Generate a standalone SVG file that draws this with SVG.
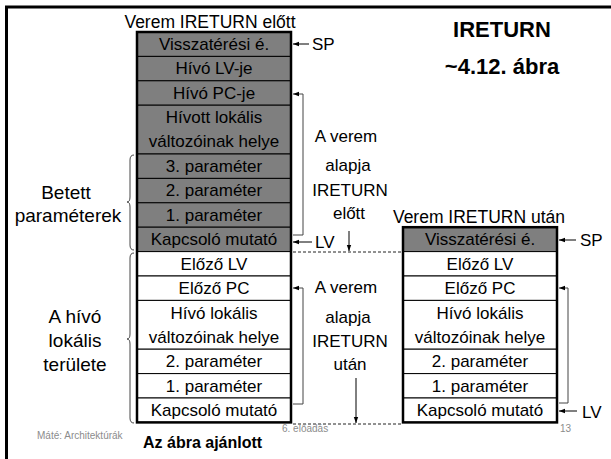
<svg xmlns="http://www.w3.org/2000/svg" width="611" height="459" viewBox="0 0 611 459">
<style>
  text { font-family: "Liberation Sans", Arial, sans-serif; fill: #000; }
  .t { font-size: 17px; text-anchor: middle; }
  .s { font-size: 19px; text-anchor: middle; }
  .h { font-size: 17.5px; text-anchor: middle; }
  .lbl { font-size: 17px; }
  .g { fill: #7f7f7f; stroke: #000; stroke-width: 1; }
  .w { fill: #fff; stroke: #000; stroke-width: 1; }
  .outer { fill: none; stroke: #000; stroke-width: 2.5; }
  .ln { fill: none; stroke: #000; stroke-width: 1; }
  .br { fill: none; stroke: #444; stroke-width: 1; }
  .dash { fill: none; stroke: #222; stroke-width: 1; stroke-dasharray: 3 2; }
  .foot { font-size: 10px; fill: #8c8c8c; }
</style>
<defs>
  <marker id="ah" viewBox="0 0 6 6" refX="6" refY="3" markerWidth="6" markerHeight="6" markerUnits="userSpaceOnUse" orient="auto">
    <path d="M0,0.8 L6,3 L0,5.2 z" fill="#000"/>
  </marker>
</defs>
<rect width="611" height="459" fill="#fff"/>
<g id="frame">
  <line x1="5" y1="7" x2="611" y2="7" stroke="#000" stroke-width="3"/>
  <line x1="6.5" y1="6" x2="6.5" y2="459" stroke="#000" stroke-width="3"/>
</g>

<g id="titles">
  <text x="502" y="37" style="font-size:22px;font-weight:bold;text-anchor:middle">IRETURN</text>
  <text x="502" y="74" style="font-size:22px;font-weight:bold;text-anchor:middle">~4.12. ábra</text>
  <text x="210" y="28" class="h">Verem IRETURN előtt</text>
  <text x="479" y="223" class="h">Verem IRETURN után</text>
</g>

<g id="left-stack">
  <g id="l1"><rect class="g" x="137" y="32" width="154" height="24.4"/><text class="t" x="214" y="50">Visszatérési é.</text></g>
  <g id="l2"><rect class="g" x="137" y="56.4" width="154" height="24.4"/><text class="t" x="214" y="74.4">Hívó LV-je</text></g>
  <g id="l3"><rect class="g" x="137" y="80.8" width="154" height="24.4"/><text class="t" x="214" y="98.8">Hívó PC-je</text></g>
  <g id="l4"><rect class="g" x="137" y="105.2" width="154" height="48.8"/><text class="t" x="214" y="123">Hívott lokális</text><text class="t" x="214" y="147">változóinak helye</text></g>
  <g id="l5"><rect class="g" x="137" y="154" width="154" height="24.4"/><text class="t" x="214" y="172">3. paraméter</text></g>
  <g id="l6"><rect class="g" x="137" y="178.4" width="154" height="24.4"/><text class="t" x="214" y="196.4">2. paraméter</text></g>
  <g id="l7"><rect class="g" x="137" y="202.8" width="154" height="24.4"/><text class="t" x="214" y="220.8">1. paraméter</text></g>
  <g id="l8"><rect class="g" x="137" y="227.2" width="154" height="24.4"/><text class="t" x="214" y="245.2">Kapcsoló mutató</text></g>
  <g id="l9"><rect class="w" x="137" y="251.6" width="154" height="24.4"/><text class="t" x="214" y="269.6">Előző LV</text></g>
  <g id="l10"><rect class="w" x="137" y="276" width="154" height="24.4"/><text class="t" x="214" y="294">Előző PC</text></g>
  <g id="l11"><rect class="w" x="137" y="300.4" width="154" height="48.8"/><text class="t" x="214" y="318.5">Hívó lokális</text><text class="t" x="214" y="342.5">változóinak helye</text></g>
  <g id="l12"><rect class="w" x="137" y="349.2" width="154" height="24.4"/><text class="t" x="214" y="367.2">2. paraméter</text></g>
  <g id="l13"><rect class="w" x="137" y="373.6" width="154" height="24.4"/><text class="t" x="214" y="391.6">1. paraméter</text></g>
  <g id="l14"><rect class="w" x="137" y="398" width="154" height="24.4"/><text class="t" x="214" y="416">Kapcsoló mutató</text></g>
  <rect class="outer" x="137" y="32" width="154" height="390.4"/>
</g>

<g id="right-stack">
  <g id="r1"><rect class="g" x="403" y="227.2" width="154" height="24.4"/><text class="t" x="480" y="245.2">Visszatérési é.</text></g>
  <g id="r2"><rect class="w" x="403" y="251.6" width="154" height="24.4"/><text class="t" x="480" y="269.6">Előző LV</text></g>
  <g id="r3"><rect class="w" x="403" y="276" width="154" height="24.4"/><text class="t" x="480" y="294">Előző PC</text></g>
  <g id="r4"><rect class="w" x="403" y="300.4" width="154" height="48.8"/><text class="t" x="480" y="318.5">Hívó lokális</text><text class="t" x="480" y="342.5">változóinak helye</text></g>
  <g id="r5"><rect class="w" x="403" y="349.2" width="154" height="24.4"/><text class="t" x="480" y="367.2">2. paraméter</text></g>
  <g id="r6"><rect class="w" x="403" y="373.6" width="154" height="24.4"/><text class="t" x="480" y="391.6">1. paraméter</text></g>
  <g id="r7"><rect class="w" x="403" y="398" width="154" height="24.4"/><text class="t" x="480" y="416">Kapcsoló mutató</text></g>
  <rect class="outer" x="403" y="227.2" width="154" height="195.2"/>
</g>

<g id="side-labels">
  <text class="s" x="66" y="199">Betett</text>
  <text class="s" x="68" y="222">paraméterek</text>
  <text class="s" x="75" y="323">A hívó</text>
  <text class="s" x="75" y="347">lokális</text>
  <text class="s" x="75" y="371">területe</text>
  <text class="t" x="346" y="142">A verem</text>
  <text class="t" x="348" y="171">alapja</text>
  <text class="t" x="350" y="196">IRETURN</text>
  <text class="t" x="349" y="219">előtt</text>
  <text class="t" x="346" y="293">A verem</text>
  <text class="t" x="348" y="323">alapja</text>
  <text class="t" x="350" y="347">IRETURN</text>
  <text class="t" x="350" y="370">után</text>
  <text class="lbl" x="312" y="50">SP</text>
  <text class="lbl" x="315" y="248">LV</text>
  <text class="lbl" x="580" y="246">SP</text>
  <text class="lbl" x="582" y="418">LV</text>
</g>

<g id="connectors">
  <path class="br" d="M134,155 Q130,155 130,160 L130,197 Q130,202 127,202 Q130,202 130,207 L130,245 Q130,250 134,250"/>
  <path class="br" d="M134,253 Q130,253 130,258 L130,334 Q130,339 127,339 Q130,339 130,344 L130,418 Q130,423 134,423"/>
  <line class="ln" x1="309" y1="44" x2="293" y2="44" marker-end="url(#ah)"/>
  <line class="ln" x1="312" y1="242" x2="293" y2="242" marker-end="url(#ah)"/>
  <path class="br" d="M293,235 L303,235 L303,94 L293,94" marker-end="url(#ah)"/>
  <path class="br" d="M293,404 L303,404 L303,288 L293,288" marker-end="url(#ah)"/>
  <line class="ln" x1="349" y1="231" x2="349" y2="251" marker-end="url(#ah)"/>
  <line class="ln" x1="356" y1="378" x2="356" y2="423" marker-end="url(#ah)"/>
  <line class="dash" x1="293" y1="252" x2="403" y2="252"/>
  <line class="dash" x1="293" y1="424" x2="403" y2="424"/>
  <line class="ln" x1="576" y1="240" x2="559" y2="240" marker-end="url(#ah)"/>
  <line class="ln" x1="577" y1="411" x2="559" y2="411" marker-end="url(#ah)"/>
  <path class="br" d="M559,403 L568,403 L568,288 L559,288" marker-end="url(#ah)"/>
</g>

<g id="footer">
  <text class="foot" x="37" y="439">Máté: Architektúrák</text>
  <text x="143" y="448" style="font-size:16px;font-weight:bold">Az ábra ajánlott</text>
  <text class="foot" x="282" y="432">6. előadás</text>
  <text class="foot" x="560" y="432">13</text>
</g>
</svg>
